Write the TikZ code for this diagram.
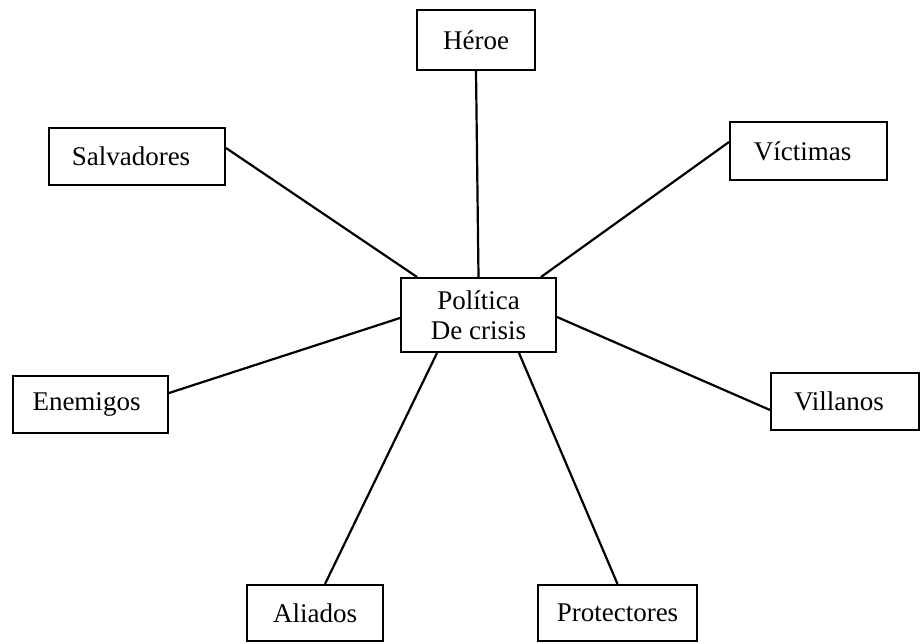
\documentclass[tikz,border=0pt]{standalone}
\usepackage{fontspec}
\setmainfont{Liberation Serif}
\begin{document}
\begin{tikzpicture}[x=1pt,y=-1pt,
  box/.style={draw, line width=2pt, rectangle, inner sep=0pt, align=center,
    font=\fontsize{27}{30}\selectfont},
  link/.style={line width=2.2pt}]
\useasboundingbox (0,0) rectangle (920,644);
\node[box, minimum width=118pt, minimum height=60pt] (h) at (476,40) {Héroe};
\node[box, minimum width=176pt, minimum height=57pt] (s) at (137,156.5) {Salvadores\hspace{12pt}};
\node[box, minimum width=157pt, minimum height=58pt] (v) at (808.5,151) {Víctimas\hspace{12pt}};
\node[box, minimum width=155pt, minimum height=74pt] (c) at (478.5,315) {Política\\De crisis};
\node[box, minimum width=155pt, minimum height=57pt] (e) at (90.5,404.5) {Enemigos\hspace{8pt}};
\node[box, minimum width=148pt, minimum height=57pt] (vi) at (845,401.5) {Villanos\hspace{12pt}};
\node[box, minimum width=136pt, minimum height=56pt] (a) at (315,613) {Aliados};
\node[box, minimum width=159pt, minimum height=56pt] (p) at (617.5,613) {Protectores};
\draw[link] (h.south) -- (c.north);
\draw[link] ([yshift=8.5pt]s.east) -- ([xshift=17pt]c.north west);
\draw[link] ([yshift=9pt]v.west) -- ([xshift=-16pt]c.north east);
\draw[link] ([yshift=11.5pt]e.east) -- ([yshift=-3pt]c.west);
\draw[link] ([yshift=-8.5pt]vi.west) -- ([yshift=-2pt]c.east);
\draw[link] ([xshift=10pt]a.north) -- ([xshift=37pt]c.south west);
\draw[link] (p.north) -- ([xshift=-38pt]c.south east);
\end{tikzpicture}
\end{document}
